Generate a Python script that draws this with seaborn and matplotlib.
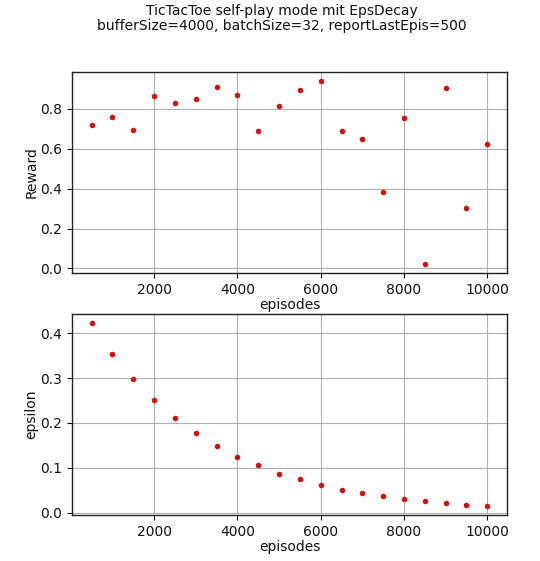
import matplotlib
matplotlib.use("Agg")
import matplotlib.pyplot as plt
import seaborn as sns
import pandas as pd

episodes = [500, 1000, 1500, 2000, 2500, 3000, 3500, 4000, 4500, 5000,
            5500, 6000, 6500, 7000, 7500, 8000, 8500, 9000, 9500, 10000]
reward = [0.718, 0.761, 0.693, 0.863, 0.830, 0.848, 0.912, 0.868, 0.688, 0.815,
          0.893, 0.940, 0.688, 0.649, 0.384, 0.756, 0.022, 0.903, 0.302, 0.626]
epsilon = [0.422, 0.353, 0.298, 0.251, 0.210, 0.177, 0.148, 0.124, 0.105, 0.087,
           0.075, 0.062, 0.051, 0.043, 0.036, 0.030, 0.025, 0.021, 0.017, 0.015]

title = "TicTacToe self-play mode mit EpsDecay\nbufferSize=4000, batchSize=32, reportLastEpis=500"

sns.set_style("ticks", {"text.color": "#111111", "axes.labelcolor": "#111111",
                        "xtick.color": "#111111", "ytick.color": "#111111"})
plt.rcParams['font.family'] = ['DejaVu Sans']
plt.rcParams['font.size'] = 10

df = pd.DataFrame({"episodes": episodes, "Reward": reward, "epsilon": epsilon})

fig = plt.figure(figsize=(5.4, 5.61), dpi=100)
ax1 = fig.add_axes([0.133, 0.513, 0.806, 0.359])
ax2 = fig.add_axes([0.133, 0.082, 0.806, 0.358])

color = "#cc1414"
for ax, col in ((ax1, "Reward"), (ax2, "epsilon")):
    sns.scatterplot(data=df, x="episodes", y=col, ax=ax, color=color, s=16,
                    linewidth=0, zorder=3)
    ax.grid(True, color="#b0b0b0", linewidth=0.8)
    ax.set_axisbelow(True)
    ax.set_xlabel("episodes", fontsize=10, labelpad=1)
    ax.set_ylabel(col, fontsize=10, labelpad=1)
    ax.tick_params(labelsize=10)
    for s in ax.spines.values():
        s.set_color("#222222")
        s.set_linewidth(1.0)
    ax.set_xticks([2000, 4000, 6000, 8000, 10000])
    ax.margins(0.05)

ax1.set_yticks([0.0, 0.2, 0.4, 0.6, 0.8])
ax1.set_yticklabels(["0.0", "0.2", "0.4", "0.6", "0.8"])
ax2.set_yticks([0.0, 0.1, 0.2, 0.3, 0.4])
ax2.set_yticklabels(["0.0", "0.1", "0.2", "0.3", "0.4"])

fig.suptitle(title, x=0.522, y=0.993, fontsize=10, linespacing=1.1)

fig.savefig("out.png", dpi=100)
